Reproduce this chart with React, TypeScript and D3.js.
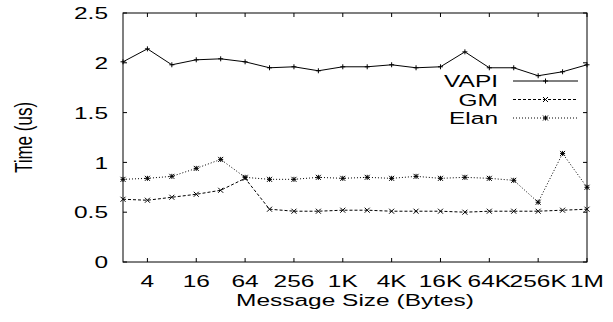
import { useEffect, useRef } from "react";
import * as d3 from "d3";

const sizes = [2, 4, 8, 16, 32, 64, 128, 256, 512, 1024, 2048, 4096, 8192, 16384, 32768, 65536, 131072, 262144, 524288, 1048576];
const vapi = [2.01, 2.14, 1.98, 2.03, 2.04, 2.01, 1.95, 1.96, 1.92, 1.96, 1.96, 1.98, 1.95, 1.96, 2.11, 1.95, 1.95, 1.87, 1.91, 1.98];
const gm = [0.63, 0.62, 0.65, 0.68, 0.72, 0.84, 0.53, 0.51, 0.51, 0.52, 0.52, 0.51, 0.51, 0.51, 0.5, 0.51, 0.51, 0.51, 0.52, 0.53];
const elan = [0.83, 0.84, 0.86, 0.94, 1.03, 0.85, 0.83, 0.83, 0.85, 0.84, 0.85, 0.84, 0.86, 0.84, 0.85, 0.84, 0.82, 0.6, 1.09, 0.75];
const xTicks = [4, 16, 64, 256, 1024, 4096, 16384, 65536, 262144, 1048576];
const xTickLabels = ["4", "16", "64", "256", "1K", "4K", "16K", "64K", "256K", "1M"];
const yTicks = [0, 0.5, 1, 1.5, 2, 2.5];
const seriesNames = ["VAPI", "GM", "Elan"];

function App() {
  const svgRef = useRef<SVGSVGElement>(null);

  useEffect(() => {
    const svgEl = svgRef.current;
    if (!svgEl) return;
    const svg = d3.select(svgEl);
    svg.selectAll("*").remove();

    const left = 123, right = 587, top = 13, bottom = 262;
    const font = "'Liberation Sans', Arial, sans-serif";
    const sx = 1.44; // the original text is stretched sideways
    const fs = "17px";

    const x = d3.scaleLog().base(2).domain([2, 1048576]).range([left, right]);
    const y = d3.scaleLinear().domain([0, 2.5]).range([bottom, top]);

    // frame
    svg.append("rect")
      .attr("x", left).attr("y", top)
      .attr("width", right - left).attr("height", bottom - top)
      .attr("fill", "none").attr("stroke", "#000").attr("stroke-width", 1);

    // ticks (mirrored)
    const tl = 4;
    xTicks.forEach((t) => {
      svg.append("line").attr("x1", x(t)).attr("x2", x(t)).attr("y1", bottom).attr("y2", bottom - tl).attr("stroke", "#000");
      svg.append("line").attr("x1", x(t)).attr("x2", x(t)).attr("y1", top).attr("y2", top + tl).attr("stroke", "#000");
    });
    yTicks.forEach((t) => {
      svg.append("line").attr("x1", left).attr("x2", left + tl).attr("y1", y(t)).attr("y2", y(t)).attr("stroke", "#000");
      svg.append("line").attr("x1", right).attr("x2", right - tl).attr("y1", y(t)).attr("y2", y(t)).attr("stroke", "#000");
    });

    // tick labels
    svg.selectAll(".xl").data(xTicks).enter().append("text")
      .attr("transform", (d) => `translate(${x(d)},287) scale(${sx},1)`)
      .attr("text-anchor", "middle")
      .style("font-family", font).style("font-size", fs)
      .text((_, i) => xTickLabels[i]);

    svg.selectAll(".yl").data(yTicks).enter().append("text")
      .attr("transform", (d) => `translate(108,${y(d)}) scale(${sx},1)`)
      .attr("dy", "0.36em")
      .attr("text-anchor", "end")
      .style("font-family", font).style("font-size", fs)
      .text((d) => String(d));

    // axis titles
    svg.append("text")
      .attr("transform", `translate(${(left + right) / 2},306) scale(${sx},1)`)
      .attr("text-anchor", "middle")
      .style("font-family", font).style("font-size", fs)
      .text("Message Size (Bytes)");
    svg.append("text")
      .attr("transform", `translate(32,${(top + bottom) / 2}) scale(${sx},1) rotate(-90)`)
      .attr("text-anchor", "middle")
      .style("font-family", font).style("font-size", fs)
      .text("Time (us)");

    const all = [vapi, gm, elan];
    const dashes = ["none", "3,2", "1,2"];
    const line = d3.line<number>().x((_, i) => x(sizes[i])).y((d) => y(d));

    const marker = (g: d3.Selection<SVGGElement, unknown, null, undefined>, k: number, cx: number, cy: number) => {
      const s = 2.5;
      if (k === 0 || k === 2) {
        g.append("line").attr("x1", cx - s).attr("x2", cx + s).attr("y1", cy).attr("y2", cy).attr("stroke", "#000");
        g.append("line").attr("x1", cx).attr("x2", cx).attr("y1", cy - s).attr("y2", cy + s).attr("stroke", "#000");
      }
      if (k === 1 || k === 2) {
        g.append("line").attr("x1", cx - s).attr("x2", cx + s).attr("y1", cy - s).attr("y2", cy + s).attr("stroke", "#000");
        g.append("line").attr("x1", cx - s).attr("x2", cx + s).attr("y1", cy + s).attr("y2", cy - s).attr("stroke", "#000");
      }
    };

    all.forEach((vals, k) => {
      const g = svg.append("g");
      g.append("path").attr("d", line(vals))
        .attr("fill", "none").attr("stroke", "#000").attr("stroke-width", 1)
        .attr("stroke-dasharray", dashes[k]);
      vals.forEach((v, i) => marker(g, k, x(sizes[i]), y(v)));

      // legend
      const ly = 81 + k * 18.5;
      g.append("text")
        .attr("transform", `translate(498,${ly}) scale(${sx},1)`)
        .attr("dy", "0.36em")
        .attr("text-anchor", "end")
        .style("font-family", font).style("font-size", fs)
        .text(seriesNames[k]);
      g.append("line").attr("x1", 513).attr("x2", 578).attr("y1", ly).attr("y2", ly)
        .attr("stroke", "#000").attr("stroke-dasharray", dashes[k]);
      marker(g, k, 545.5, ly);
    });
  }, []);

  return (
    <svg
      ref={svgRef}
      width={613}
      height={322}
      style={{ position: "absolute", left: 0, top: 0, background: "#fff" }}
    ></svg>
  );
}

export default App;
